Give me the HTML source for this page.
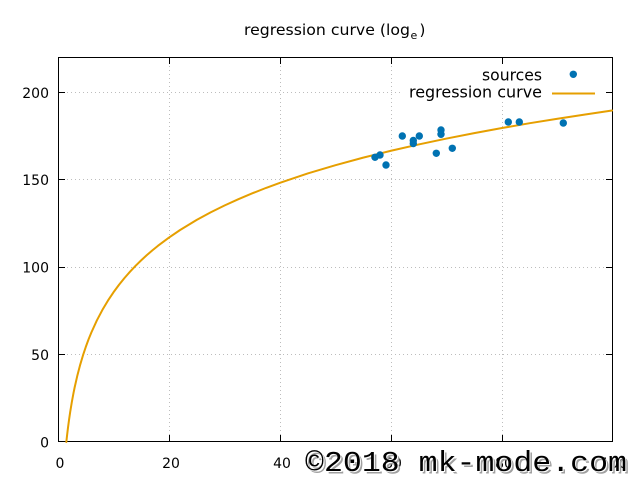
<!DOCTYPE html>
<html>
<head>
<meta charset="utf-8">
<style>
html,body{margin:0;padding:0;background:#fff;}
svg{display:block;}
text{font-family:"DejaVu Sans","Liberation Sans",sans-serif;fill:#000;}
</style>
</head>
<body>
<svg width="640" height="480" viewBox="0 0 640 480" xmlns="http://www.w3.org/2000/svg">
<rect x="0" y="0" width="640" height="480" fill="#fff"/>

<!-- grid -->
<g stroke="#bdbdbd" stroke-width="1" stroke-dasharray="1,3" fill="none">
  <line x1="59" y1="354.5" x2="612" y2="354.5"/>
  <line x1="59" y1="267.5" x2="612" y2="267.5"/>
  <line x1="59" y1="179.5" x2="612" y2="179.5"/>
  <line x1="59" y1="92.5" x2="612" y2="92.5"/>
  <line x1="169.5" y1="58" x2="169.5" y2="441"/>
  <line x1="280.5" y1="58" x2="280.5" y2="441"/>
  <line x1="391.5" y1="58" x2="391.5" y2="441"/>
  <line x1="502.5" y1="58" x2="502.5" y2="441"/>
</g>

<!-- legend background -->
<rect x="403" y="63" width="202" height="39" fill="#fff"/>

<!-- border -->
<rect x="58.5" y="57.5" width="554" height="384" fill="none" stroke="#000" stroke-width="1"/>

<!-- ticks -->
<g stroke="#000" stroke-width="1">
  <line x1="59" y1="354.5" x2="65" y2="354.5"/>
  <line x1="59" y1="267.5" x2="65" y2="267.5"/>
  <line x1="59" y1="179.5" x2="65" y2="179.5"/>
  <line x1="59" y1="92.5" x2="65" y2="92.5"/>
  <line x1="606" y1="354.5" x2="612" y2="354.5"/>
  <line x1="606" y1="267.5" x2="612" y2="267.5"/>
  <line x1="606" y1="179.5" x2="612" y2="179.5"/>
  <line x1="606" y1="92.5" x2="612" y2="92.5"/>
  <line x1="169.5" y1="441" x2="169.5" y2="435"/>
  <line x1="280.5" y1="441" x2="280.5" y2="435"/>
  <line x1="391.5" y1="441" x2="391.5" y2="435"/>
  <line x1="502.5" y1="441" x2="502.5" y2="435"/>
  <line x1="169.5" y1="58" x2="169.5" y2="64"/>
  <line x1="280.5" y1="58" x2="280.5" y2="64"/>
  <line x1="391.5" y1="58" x2="391.5" y2="64"/>
  <line x1="502.5" y1="58" x2="502.5" y2="64"/>
</g>

<!-- y tick labels -->
<g font-size="14" text-anchor="end">
  <text x="49" y="447.5">0</text>
  <text x="49" y="360">50</text>
  <text x="49" y="272.5">100</text>
  <text x="49" y="185">150</text>
  <text x="49" y="98">200</text>
</g>

<!-- x tick labels -->
<g font-size="14" text-anchor="middle">
  <text x="60" y="468">0</text>
  <text x="171" y="468">20</text>
  <text x="282" y="468">40</text>
  <text x="393" y="468">60</text>
  <text x="504" y="468">80</text>
  <text x="614" y="468">100</text>
</g>

<!-- title -->
<text x="244" y="35" font-size="15" textLength="166" lengthAdjust="spacingAndGlyphs">regression curve (log</text>
<text x="410.5" y="39" font-size="11">e</text>
<text x="419.5" y="35" font-size="15">)</text>

<!-- regression curve -->
<polyline fill="none" stroke="#e69f00" stroke-width="2" stroke-linejoin="round" stroke-linecap="round"
 points="66.34,442 66.88,437.04 67.435,432.24 67.99,427.72 69.1,419.4 70.21,411.87 71.88,401.77 73.54,392.83 74.65,387.37 77.43,375.2 80.2,364.66 82.98,355.35 85.75,347.03 88.5,339.5 91.3,332.62 96.85,320.46 102.4,309.91 107.95,300.6 113.5,292.27 119.05,284.75 124.6,277.88 130.15,271.55 135.7,265.7 141.25,260.25 146.8,255.15 152.35,250.37 157.9,245.85 169,237.53 180.1,230.0 196.75,219.91 210.6,212.37 224.5,205.51 238.4,199.18 252.25,193.33 266.1,187.88 280,182.78 307.75,173.47 335.5,165.16 363.25,157.62 391,150.76 418.75,144.43 446.5,138.58 474.25,133.1 502,128.03 529.75,123.2 557.5,118.73 585.25,114.5 612,110.5"/>

<!-- data points -->
<g fill="#0072b2">
  <circle cx="375" cy="157.3" r="3.7"/>
  <circle cx="380" cy="155" r="3.7"/>
  <circle cx="386" cy="165" r="3.7"/>
  <circle cx="402.3" cy="136" r="3.7"/>
  <circle cx="413.3" cy="140.5" r="3.7"/>
  <circle cx="413.3" cy="143.5" r="3.7"/>
  <circle cx="419.3" cy="136" r="3.7"/>
  <circle cx="441" cy="130" r="3.7"/>
  <circle cx="441" cy="134.3" r="3.7"/>
  <circle cx="436.3" cy="153.3" r="3.7"/>
  <circle cx="452.3" cy="148.3" r="3.7"/>
  <circle cx="508.3" cy="122" r="3.7"/>
  <circle cx="519.3" cy="122" r="3.7"/>
  <circle cx="563.3" cy="123" r="3.7"/>
</g>

<!-- legend -->
<text x="542" y="80.5" font-size="16" text-anchor="end" textLength="60" lengthAdjust="spacingAndGlyphs">sources</text>
<circle cx="573.3" cy="74.3" r="3.7" fill="#0072b2"/>
<text x="542" y="97.5" font-size="16" text-anchor="end" textLength="133" lengthAdjust="spacingAndGlyphs">regression curve</text>
<line x1="552" y1="93.5" x2="595" y2="93.5" stroke="#e69f00" stroke-width="2"/>

<!-- watermark -->
<g font-size="29">
  <text x="307.5" y="473.5" style="font-family:'Liberation Mono',monospace;fill:#a0a0a0" textLength="322" lengthAdjust="spacingAndGlyphs">©2018 mk-mode.com</text>
  <text x="306" y="472" style="font-family:'Liberation Mono',monospace;fill:#fff" textLength="322" lengthAdjust="spacingAndGlyphs">©2018 mk-mode.com</text>
  <text x="305" y="471" style="font-family:'Liberation Mono',monospace;fill:#000" textLength="322" lengthAdjust="spacingAndGlyphs">©2018 mk-mode.com</text>
</g>
</svg>
</body>
</html>
